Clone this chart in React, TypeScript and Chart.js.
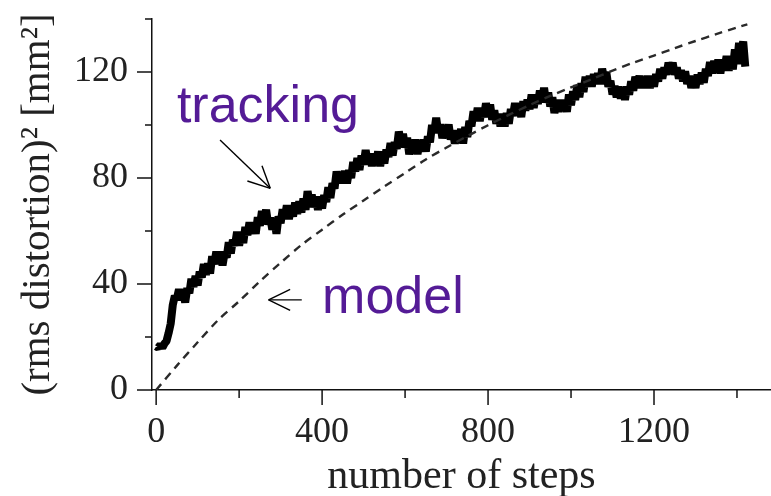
import React, { useEffect, useRef } from 'react';
import { Chart, registerables } from 'chart.js';

Chart.register(...registerables);

// ---- data ----
const TRACK_STEP = 5; // sampling interval (steps) of the tracking series, starting at step 0
const trackingValues = [
  16.5, 16.0, 17.0, 16.0, 17.5, 18.5, 21.5, 25.0, 32.0, 35.5,
  34.5, 38.0, 34.0, 37.0, 33.0, 38.5, 36.5, 42.0, 39.0, 43.0,
  39.5, 44.7, 42.5, 47.5, 43.5, 47.7, 44.0, 50.5, 47.5, 52.2,
  47.5, 52.2, 47.0, 51.7, 50.0, 55.7, 51.5, 56.7, 54.5, 59.7,
  54.5, 59.2, 55.5, 61.5, 58.5, 63.2, 59.0, 62.5, 59.0, 65.2,
  62.0, 67.5, 63.5, 68.0, 62.5, 65.0, 60.5, 64.5, 59.0, 65.5,
  63.0, 68.2, 65.0, 69.7, 64.5, 68.7, 65.5, 70.7, 66.5, 71.2,
  67.0, 72.2, 68.0, 75.0, 70.5, 73.7, 69.0, 73.0, 68.0, 73.0,
  68.5, 73.5, 71.0, 76.5, 72.5, 78.0, 76.0, 82.5, 78.0, 82.0,
  78.0, 82.7, 78.0, 83.0, 80.0, 86.0, 82.5, 87.5, 83.0, 88.5,
  85.0, 90.5, 85.5, 89.2, 84.5, 89.2, 85.5, 90.0, 84.5, 89.5,
  85.5, 90.7, 88.0, 93.2, 88.5, 93.5, 91.0, 97.5, 93.5, 96.7,
  91.5, 95.2, 89.0, 93.2, 89.5, 94.5, 89.0, 93.5, 90.0, 94.5,
  90.0, 95.7, 93.5, 100.0, 97.0, 102.7, 97.0, 100.2, 95.0, 99.7,
  95.5, 100.2, 94.5, 98.0, 93.0, 97.7, 94.0, 98.5, 93.0, 99.2,
  95.5, 101.5, 99.5, 105.2, 101.5, 106.5, 101.5, 106.2, 103.0, 108.2,
  103.5, 107.7, 102.0, 105.5, 100.5, 104.2, 99.5, 104.2, 99.5, 104.5,
  100.5, 106.0, 103.5, 108.2, 103.5, 107.2, 103.0, 109.0, 105.5, 109.5,
  106.0, 111.5, 106.5, 111.0, 108.0, 113.0, 109.5, 114.0, 108.5, 112.2,
  107.0, 110.5, 104.5, 108.7, 105.0, 109.5, 105.5, 109.2, 105.0, 111.5,
  107.5, 112.7, 109.5, 115.0, 110.5, 115.7, 112.5, 118.2, 114.5, 118.5,
  114.5, 119.2, 115.5, 119.5, 115.5, 121.2, 117.5, 120.0, 114.5, 116.7,
  111.5, 114.7, 110.5, 114.5, 110.0, 113.5, 109.5, 114.5, 111.5, 116.5,
  113.0, 118.2, 115.0, 118.5, 114.0, 117.7, 114.0, 118.5, 114.0, 117.7,
  114.5, 119.2, 116.5, 121.2, 117.5, 121.7, 119.0, 123.5, 120.5, 123.5,
  119.0, 121.7, 117.5, 120.7, 116.5, 120.2, 115.5, 118.5, 114.0, 118.2,
  114.0, 119.0, 115.5, 119.7, 116.0, 121.2, 118.5, 123.7, 119.5, 124.2,
  120.0, 124.7, 119.5, 124.7, 121.5, 126.0, 120.5, 125.5, 121.0, 128.5,
  123.0, 131.0, 127.5, 131.5, 122.0,
];

const modelSteps = [
  0, 50, 100, 150, 200, 250, 300, 350, 400, 450, 500, 550, 600, 650, 700,
  750, 800, 850, 900, 950, 1000, 1050, 1100, 1150, 1200, 1250, 1300, 1350, 1400, 1425,
];
const modelValues = [
  0, 9.2, 18, 26.5, 33.5, 41, 48, 54.7, 60.5, 66.2, 71.5, 76.8, 81.9, 87, 91.5,
  95.8, 99.9, 103.8, 107.5, 111, 114.2, 117.3, 120.5, 123.5, 126.2, 129, 131.7, 134.3, 136.8, 138,
];

const xMajorTicks = [0, 400, 800, 1200];
const xMinorTicks = [200, 600, 1000, 1400];
const yMajorTicks = [0, 40, 80, 120];
const yMinorTicks = [20, 60, 100, 140];

const xTitle = 'number of steps';
const yTitle = '(rms distortion)\u00B2 [mm\u00B2]';

// annotation anchors in data coordinates
const labelTexts = ['tracking', 'model'];
const labelX = [50, 400];
const labelY = [101, 29];
const arrowFrom = [[154, 94.3], [351, 34]];
const arrowTo = [[275, 76.1], [271, 34]];

const SERIF = '"Liberation Serif", "Times New Roman", serif';
const SANS = '"Liberation Sans", Arial, sans-serif';
const PURPLE = '#541B96';

const decorPlugin = {
  id: 'decor',
  afterDraw(chart: any) {
    const { ctx, chartArea } = chart;
    const x = chart.scales.x;
    const y = chart.scales.y;
    ctx.save();
    ctx.strokeStyle = '#111';
    ctx.lineWidth = 1.5;
    const seg = (x1: number, y1: number, x2: number, y2: number) => {
      ctx.beginPath();
      ctx.moveTo(x1, y1);
      ctx.lineTo(x2, y2);
      ctx.stroke();
    };
    yMajorTicks.forEach((v) => {
      const p = y.getPixelForValue(v);
      seg(chartArea.left - 15, p, chartArea.left, p);
    });
    yMinorTicks.forEach((v) => {
      const p = y.getPixelForValue(v);
      seg(chartArea.left - 7, p, chartArea.left, p);
    });
    xMajorTicks.forEach((v) => {
      const p = x.getPixelForValue(v);
      seg(p, chartArea.bottom, p, chartArea.bottom + 15);
    });
    xMinorTicks.forEach((v) => {
      const p = x.getPixelForValue(v);
      seg(p, chartArea.bottom, p, chartArea.bottom + 8);
    });

    // annotation labels
    ctx.fillStyle = PURPLE;
    ctx.font = `52px ${SANS}`;
    ctx.textAlign = 'left';
    ctx.textBaseline = 'alphabetic';
    labelTexts.forEach((t, i) => {
      ctx.fillText(t, x.getPixelForValue(labelX[i]), y.getPixelForValue(labelY[i]));
    });

    // arrows
    ctx.strokeStyle = '#000';
    ctx.lineWidth = 1.4;
    arrowFrom.forEach((f, i) => {
      const x1 = x.getPixelForValue(f[0]);
      const y1 = y.getPixelForValue(f[1]);
      const x2 = x.getPixelForValue(arrowTo[i][0]);
      const y2 = y.getPixelForValue(arrowTo[i][1]);
      seg(x1, y1, x2, y2);
      const ang = Math.atan2(y1 - y2, x1 - x2);
      const len = 24;
      const spread = (26 * Math.PI) / 180;
      seg(x2, y2, x2 + len * Math.cos(ang + spread), y2 + len * Math.sin(ang + spread));
      seg(x2, y2, x2 + len * Math.cos(ang - spread), y2 + len * Math.sin(ang - spread));
    });
    ctx.restore();
  },
};

export default function App() {
  const ref = useRef<HTMLCanvasElement | null>(null);

  useEffect(() => {
    if (!ref.current) return;
    const trackingData = trackingValues.map((v, i) => ({ x: i * TRACK_STEP, y: v }));
    const modelData = modelSteps.map((s, i) => ({ x: s, y: modelValues[i] }));

    const chart = new Chart(ref.current, {
      type: 'line',
      data: {
        datasets: [
          {
            label: 'model',
            data: modelData,
            borderColor: '#2a2a2a',
            borderWidth: 2.4,
            borderDash: [8, 6],
            pointRadius: 0,
            tension: 0.3,
            fill: false,
          },
          {
            label: 'tracking',
            data: trackingData,
            borderColor: '#000',
            borderWidth: 8,
            borderJoinStyle: 'bevel',
            pointRadius: 0,
            tension: 0,
            fill: false,
          },
        ],
      },
      options: {
        animation: false,
        responsive: false,
        events: [],
        layout: { padding: { top: 19, left: 0, right: 0, bottom: 0 } },
        plugins: {
          legend: { display: false },
          tooltip: { enabled: false },
        },
        scales: {
          x: {
            type: 'linear',
            min: -10,
            max: 1482,
            grid: { display: false, drawTicks: true, tickLength: 15 },
            border: { display: true, color: '#111', width: 1.5 },
            ticks: {
              font: { family: SERIF, size: 36 },
              color: '#222',
              padding: 6,
              maxRotation: 0,
              autoSkip: false,
              callback: (v: any) => String(v),
            },
            title: {
              display: true,
              text: xTitle,
              font: { family: SERIF, size: 42, lineHeight: 1.0 },
              color: '#222',
              padding: { top: 0, bottom: -2 },
            },
            afterBuildTicks: (s: any) => {
              s.ticks = xMajorTicks.map((v) => ({ value: v }));
            },
            afterFit: (s: any) => {
              s.height = 106;
              s.paddingLeft = 0;
              s.paddingRight = 0;
            },
          },
          y: {
            type: 'linear',
            min: 0,
            max: 140,
            grid: { display: false, drawTicks: true, tickLength: 15 },
            border: { display: true, color: '#111', width: 1.5 },
            ticks: {
              font: { family: SERIF, size: 36 },
              color: '#222',
              padding: 9,
              callback: (v: any) => String(v),
            },
            title: {
              display: true,
              text: yTitle,
              font: { family: SERIF, size: 41 },
              color: '#222',
              padding: { top: 14, bottom: 0 },
            },
            afterBuildTicks: (s: any) => {
              s.ticks = yMajorTicks.map((v) => ({ value: v }));
            },
            afterFit: (s: any) => {
              s.width = 152;
              s.paddingTop = 0;
              s.paddingBottom = 0;
            },
          },
        },
      },
      plugins: [decorPlugin],
    } as any);

    return () => chart.destroy();
  }, []);

  return (
    <div style={{ position: 'absolute', left: 0, top: 0, width: 771, height: 496, background: '#fff' }}>
      <canvas ref={ref} width={771} height={496} />
    </div>
  );
}
